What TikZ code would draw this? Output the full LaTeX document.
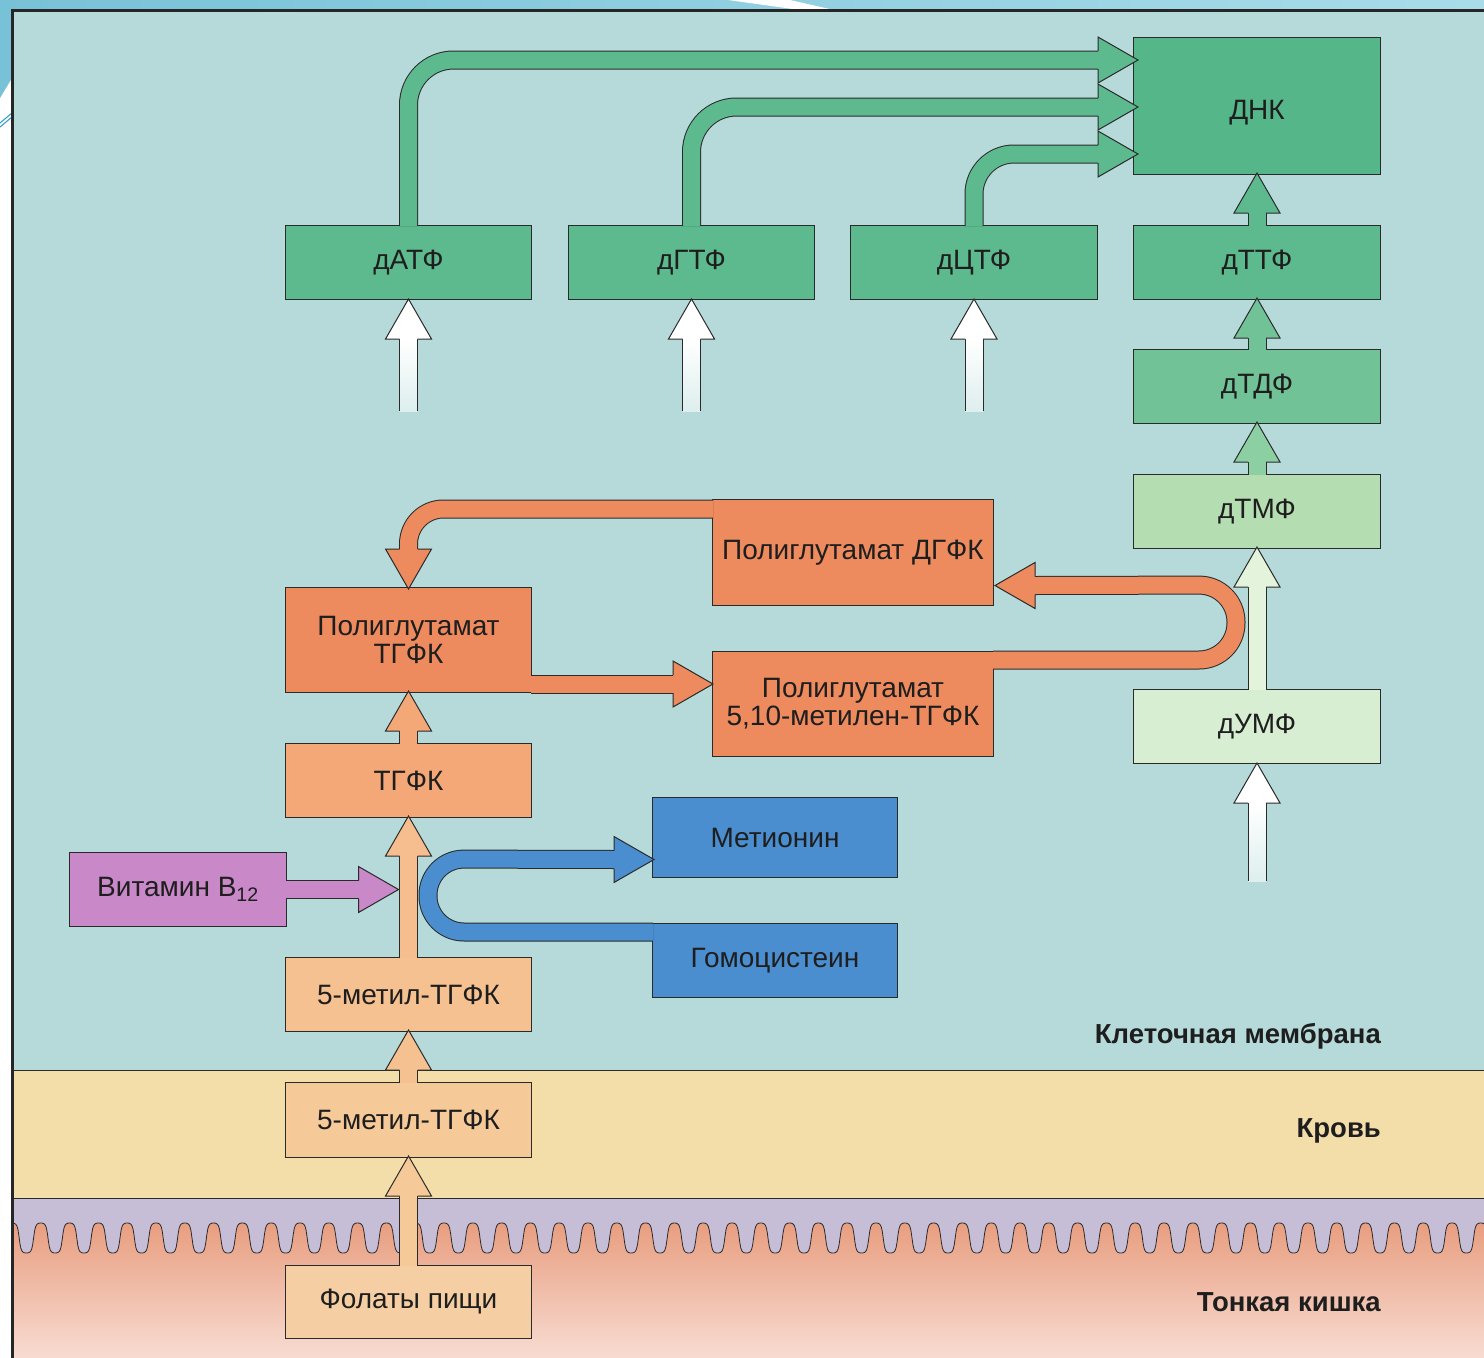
\documentclass[tikz,border=0pt]{standalone}
\usepackage{fontspec}
\setmainfont{Liberation Sans}
\usetikzlibrary{calc}
\definecolor{edge}{HTML}{2A2A2A}
\definecolor{txt}{HTML}{1E1E1E}
\definecolor{slA}{HTML}{78C2D8}
\definecolor{slB}{HTML}{A8DCE9}
\definecolor{cellbg}{HTML}{B5DAD9}
\definecolor{blood}{HTML}{F3DEA9}
\definecolor{band}{HTML}{C6BDD7}
\definecolor{gutT}{HTML}{E89E80}
\definecolor{gutB}{HTML}{F8DCD2}
\definecolor{gDNA}{HTML}{55B68A}
\definecolor{gA}{HTML}{5DBA8E}
\definecolor{gTDF}{HTML}{72C297}
\definecolor{gTMF}{HTML}{B4DDB2}
\definecolor{gUMF}{HTML}{D8EED3}
\definecolor{aTMF}{HTML}{8CCFA2}
\definecolor{aUMF}{HTML}{E4F3DC}
\definecolor{org}{HTML}{EE8B5E}
\definecolor{oTGFK}{HTML}{F4A878}
\definecolor{oM5c}{HTML}{F6C190}
\definecolor{oM5b}{HTML}{F5C998}
\definecolor{oFol}{HTML}{F6CEA3}
\definecolor{blu}{HTML}{4A8ECF}
\definecolor{pur}{HTML}{C988C8}
\newcommand\uparr[3]{%
  \draw[shaft=#3] ($(#1.north)+(0,1)$) -- ($(#2.south)+(0,38)$);
  \pic[rotate=90] at ($(#2.south)+(0,-2)$) {ahead=#3};}
\newcommand\inarr[2]{%
  \shade[top color=white, bottom color=white!55!cellbg] ($(#1.south)+(-9,39)$) rectangle ($(#1.south)+(9,#2)$);
  \draw[line width=1pt, draw=edge] ($(#1.south)+(-9,39)$) -- ($(#1.south)+(-9,#2)$)
     ($(#1.south)+(9,39)$) -- ($(#1.south)+(9,#2)$);
  \pic[rotate=90] at ($(#1.south)+(0,-1)$) {ahead=white};}
\begin{document}
\begin{tikzpicture}[x=1pt,y=-1pt,
  box/.style={draw=edge, line width=1pt, inner sep=0pt, anchor=north west,
    font=\fontsize{28}{28}\selectfont, text=txt, align=center},
  lbl/.style={font=\bfseries\fontsize{27.5}{28}\selectfont, text=txt, inner sep=0pt, anchor=base east},
  shaft/.style={draw=edge, line width=1pt, double=#1, double distance=17pt},
  pics/ahead/.style={code={\filldraw[draw=edge, line width=1pt, fill=#1, line join=miter]
    (-40pt,9pt) -- (-40pt,23pt) -- (0pt,0pt) -- (-40pt,-23pt) -- (-40pt,-9pt);}},
  declare function={wv(\t)=1238-15*cos(360*frac(\t))*sqrt(1.2)/sqrt(cos(360*frac(\t))^2+0.2);}]
\useasboundingbox (0,0) rectangle (1484,1358);
% slide background
\fill[white] (0,0) rectangle (1484,1358);
\shade[left color=slA, right color=slB] (0,0) rectangle (1484,10);
\fill[slA] (0,0) -- (12,0) -- (12,78) -- (0,98) -- cycle;
\fill[white] (728,0) -- (790,0) -- (834,10) -- (800,10) -- cycle;
\draw[cyan!60!teal, line width=1pt] (0,123) -- (12,113) (0,127) -- (12,117);
% panel bands
\fill[cellbg] (12,10) rectangle (1484,1070);
\fill[blood] (12,1070) rectangle (1484,1198);
\fill[band] (12,1198) rectangle (1484,1262);
\shade[top color=gutT, bottom color=gutB] (12,1358) -- plot[domain=0:51.2, samples=1500, variable=\t] ({12+28.8*\t},{wv(\t)}) -- (1484,1358) -- cycle;
\draw[edge, line width=0.8pt] plot[domain=0:51.2, samples=1500, variable=\t] ({12+28.8*\t},{wv(\t)});
\draw[edge, line width=1pt] (12,1070) -- (1484,1070) (12,1198) -- (1484,1198);
\draw[black!85, line width=3pt] (12,1358) -- (12,10) -- (1484,10);
% boxes
\node[box, fill=gDNA, minimum width=247pt, minimum height=137pt, text height=33pt] (DNK) at (1133,37) {ДНК};
\node[box, fill=gA, minimum width=246pt, minimum height=74pt] (dATF) at (285,225) {дАТФ};
\node[box, fill=gA, minimum width=246pt, minimum height=74pt] (dGTF) at (568,225) {дГТФ};
\node[box, fill=gA, minimum width=247pt, minimum height=74pt] (dCTF) at (850,225) {дЦТФ};
\node[box, fill=gA, minimum width=247pt, minimum height=74pt] (dTTF) at (1133,225) {дТТФ};
\node[box, fill=gTDF, minimum width=247pt, minimum height=74pt] (dTDF) at (1133,349) {дТДФ};
\node[box, fill=gTMF, minimum width=247pt, minimum height=74pt] (dTMF) at (1133,474) {дТМФ};
\node[box, fill=gUMF, minimum width=247pt, minimum height=74pt] (dUMF) at (1133,689) {дУМФ};
\node[box, fill=org, minimum width=281pt, minimum height=106pt] (pDGFK) at (712,499) {Полиглутамат ДГФК};
\node[box, fill=org, minimum width=246pt, minimum height=105pt] (pTGFK) at (285,587) {Полиглутамат\\ТГФК};
\node[box, fill=org, minimum width=281pt, minimum height=105pt] (pMet) at (712,651) {Полиглутамат\\5,10-метилен-ТГФК};
\node[box, fill=oTGFK, minimum width=246pt, minimum height=74pt] (TGFK) at (285,743) {ТГФК};
\node[box, fill=pur, minimum width=217pt, minimum height=74pt] (B12) at (69,852) {Витамин B\textsubscript{12}};
\node[box, fill=blu, minimum width=245pt, minimum height=80pt] (Met) at (652,797) {Метионин};
\node[box, fill=blu, minimum width=245pt, minimum height=74pt] (Hcy) at (652,923) {Гомоцистеин};
\node[box, fill=oM5c, minimum width=246pt, minimum height=74pt] (m5c) at (285,957) {5-метил-ТГФК};
\node[box, fill=oM5b, minimum width=246pt, minimum height=75pt] (m5b) at (285,1082) {5-метил-ТГФК};
\node[box, fill=oFol, minimum width=246pt, minimum height=73pt] (fol) at (285,1265) {Фолаты пищи};
% layer labels
\node[lbl] (lcell) at (1381,1043) {Клеточная мембрана};
\node[lbl] (lblood) at (1381,1137) {Кровь};
\node[lbl] (lgut) at (1381,1311) {Тонкая кишка};
% green arrows to DNA
\coordinate (t1) at ($(DNK.north west)+(5,23)$);
\coordinate (t2) at ($(DNK.north west)+(5,70)$);
\coordinate (t3) at ($(DNK.north west)+(5,117)$);
\draw[shaft=gA, rounded corners=45pt] ($(dATF.north)+(0,1)$) |- ($(t1)+(-39,0)$);
\pic at (t1) {ahead=gA};
\draw[shaft=gA, rounded corners=45pt] ($(dGTF.north)+(0,1)$) |- ($(t2)+(-39,0)$);
\pic at (t2) {ahead=gA};
\draw[shaft=gA, rounded corners=40pt] ($(dCTF.north)+(0,1)$) |- ($(t3)+(-39,0)$);
\pic at (t3) {ahead=gA};
\uparr{dTTF}{DNK}{gA}
\uparr{dTDF}{dTTF}{gTDF}
\uparr{dTMF}{dTDF}{aTMF}
% orange loop arrows
\coordinate (o1s) at ($(pDGFK.north west)+(1,10)$);
\draw[shaft=org, rounded corners=35pt] (o1s) -| ($(pTGFK.north)+(0,-37)$);
\pic[rotate=-90] at ($(pTGFK.north)+(0,2)$) {ahead=org};
\coordinate (o2s) at ($(pTGFK.south east)+(-1,-9)$);
\coordinate (o2t) at (pMet.west |- o2s);
\draw[shaft=org] (o2s) -- ($(o2t)+(-38,0)$);
\pic at ($(o2t)+(1,0)$) {ahead=org};
\coordinate (o3s) at ($(pMet.north east)+(-1,9)$);
\coordinate (o3t) at ($(pDGFK.east)+(1,33)$);
\draw[shaft=org, rounded corners=37pt] (o3s) -- (1236,660) -- (1236,585) -- ($(o3t)+(39,0)$);
\pic[rotate=180] at (o3t) {ahead=org};
\uparr{dUMF}{dTMF}{aUMF}
% orange chain
\uparr{TGFK}{pTGFK}{oTGFK}
\uparr{m5c}{TGFK}{oM5c!90!oTGFK}
\uparr{m5b}{m5c}{oM5c}
\uparr{fol}{m5b}{oM5b}
% vitamin B12
\coordinate (vx) at ($(TGFK.south)+(-10,0)$);
\coordinate (vtip) at (vx |- B12.east);
\draw[shaft=pur] ($(B12.east)+(-1,0)$) -- ($(vtip)+(-38,0)$);
\pic at (vtip) {ahead=pur};
% blue loop
\coordinate (bs) at ($(Hcy.north west)+(1,9)$);
\coordinate (bt) at ($(Met.west)+(2,22)$);
\draw[shaft=blu, rounded corners=36pt] (bs) -- (428,932) -- (428,859) -- ($(bt)+(-38,0)$);
\pic at (bt) {ahead=blu};
% white input arrows
\inarr{dATF}{111}
\inarr{dGTF}{111}
\inarr{dCTF}{111}
\inarr{dUMF}{117}
\end{tikzpicture}
\end{document}
